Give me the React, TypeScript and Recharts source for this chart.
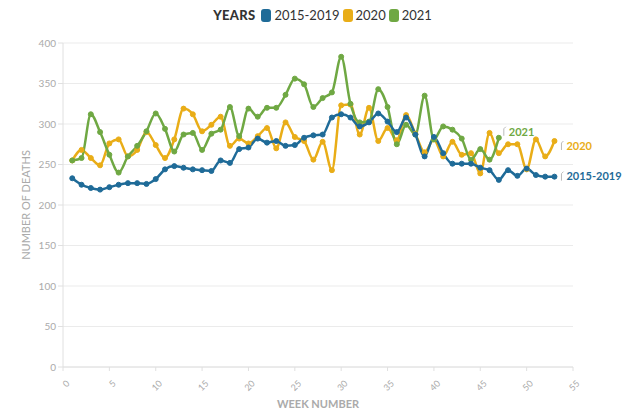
import React from "react";
import { LineChart, Line, XAxis, YAxis, CartesianGrid, Label } from "recharts";

const weeks = Array.from({ length: 53 }, (_, i) => i + 1);

const avg1519 = [233, 225, 221, 219, 222, 225, 227, 227, 226, 232, 244, 248, 246, 244, 243, 242, 255, 252, 269, 271, 282, 277, 279, 273, 274, 283, 286, 287, 308, 312, 308, 297, 302, 313, 303, 290, 308, 287, 260, 284, 264, 251, 251, 251, 246, 243, 231, 243, 236, 245, 237, 235, 235];

const y2020 = [255, 268, 258, 249, 276, 281, 260, 268, 290, 274, 258, 281, 319, 312, 291, 299, 309, 273, 282, 276, 285, 295, 270, 302, 284, 279, 256, 278, 243, 323, 324, 287, 320, 279, 295, 280, 311, 288, 265, 281, 260, 278, 262, 264, 239, 289, 264, 275, 275, 244, 281, 260, 279];

const y2021 = [255, 258, 312, 290, 262, 240, 260, 273, 291, 313, 294, 266, 287, 289, 268, 288, 293, 321, 285, 319, 309, 320, 320, 336, 356, 349, 321, 332, 339, 383, 325, 302, 303, 343, 321, 275, 299, 287, 335, 281, 297, 293, 282, 256, 269, 256, 283];

const xTicks = [0, 5, 10, 15, 20, 25, 30, 35, 40, 45, 50, 55];
const yTicks = [0, 50, 100, 150, 200, 250, 300, 350, 400];

const seriesNames = ["2015-2019", "2020", "2021"];
const colors = ["#1f6b98", "#e9ad17", "#6fa843"];

const data = weeks.map((w, i) => ({
  week: w,
  a: avg1519[i],
  b: y2020[i],
  c: i < y2021.length ? y2021[i] : null,
}));

const FONT = "Lato, 'Open Sans', sans-serif";

const endLabel = (lastIndex: number, text: string, color: string, dx: number, dy: number) => (props: any) => {
  const { x, y, index } = props;
  if (index !== lastIndex) return null;
  return (
    <g>
      <path
        d={`M${x + dx - 5},${y + dy + 3} L${x + dx - 5},${y + dy - 4} L${x + dx - 3},${y + dy - 6}`}
        stroke="#bbb"
        strokeWidth={1}
        fill="none"
      />
      <text x={x + dx} y={y + dy} fill={color} fontSize={11} fontWeight={700} fontFamily={FONT} dominantBaseline="middle">
        {text}
      </text>
    </g>
  );
};

const XTick = (props: any) => {
  const { x, y, payload } = props;
  return (
    <text x={x + 2} y={y + 6} transform={`rotate(-45 ${x + 2} ${y + 6})`} textAnchor="end" fill="#aaa" fontSize={9} fontFamily={FONT} dominantBaseline="hanging">
      {payload.value}
    </text>
  );
};

export default function App() {
  return (
    <div style={{ position: "absolute", left: 0, top: 0, width: 644, height: 418, background: "#fff", fontFamily: FONT }}>
      <div style={{ position: "absolute", top: 7, left: 2, width: 644, display: "flex", justifyContent: "center", alignItems: "center", fontSize: 13, color: "#333" }}>
        <span style={{ fontWeight: 900, marginRight: 6, letterSpacing: 0.3 }}>YEARS</span>
        {seriesNames.map((n, i) => (
          <span key={n} style={{ display: "inline-flex", alignItems: "center", marginRight: 3 }}>
            <span style={{ display: "inline-block", width: 10, height: 13, borderRadius: 3, background: colors[i], marginRight: 3 }} />
            <span>{n}</span>
          </span>
        ))}
      </div>
      <LineChart width={644} height={418} data={data} margin={{ top: 43, right: 71, bottom: 0, left: 0 }}>
        <CartesianGrid vertical={false} stroke="#ebebeb" />
        <XAxis
          dataKey="week"
          type="number"
          domain={[0, 55]}
          ticks={xTicks}
          height={51}
          stroke="#e0e0e0"
          tickLine={{ stroke: "#e0e0e0" }}
          tickSize={4}
          tick={<XTick />}
          interval={0}
        >
          <Label value="WEEK NUMBER" position="insideBottom" offset={10} fill="#aaa" fontSize={11} fontWeight={700} fontFamily={FONT} />
        </XAxis>
        <YAxis
          domain={[0, 400]}
          ticks={yTicks}
          width={63}
          stroke="#e0e0e0"
          tickSize={5}
          tick={{ fill: "#aaa", fontSize: 10, fontFamily: FONT }}
        >
          <Label value="NUMBER OF DEATHS" angle={-90} position="insideLeft" offset={26} fill="#aaa" fontSize={11} fontFamily={FONT} style={{ textAnchor: "middle" }} />
        </YAxis>
        <Line
          type="monotone"
          dataKey="b"
          stroke={colors[1]}
          strokeWidth={2.5}
          dot={{ r: 2.5, fill: colors[1], stroke: colors[1], strokeWidth: 1 }}
          isAnimationActive={false}
          label={endLabel(52, "2020", colors[1], 12, 6)}
        />
        <Line
          type="monotone"
          dataKey="c"
          stroke={colors[2]}
          strokeWidth={2.5}
          dot={{ r: 2.5, fill: colors[2], stroke: colors[2], strokeWidth: 1 }}
          isAnimationActive={false}
          label={endLabel(46, "2021", colors[2], 10, -5)}
        />
        <Line
          type="monotone"
          dataKey="a"
          stroke={colors[0]}
          strokeWidth={2.5}
          dot={{ r: 2.5, fill: colors[0], stroke: colors[0], strokeWidth: 1 }}
          isAnimationActive={false}
          label={endLabel(52, "2015-2019", colors[0], 12, 1)}
        />
      </LineChart>
    </div>
  );
}
